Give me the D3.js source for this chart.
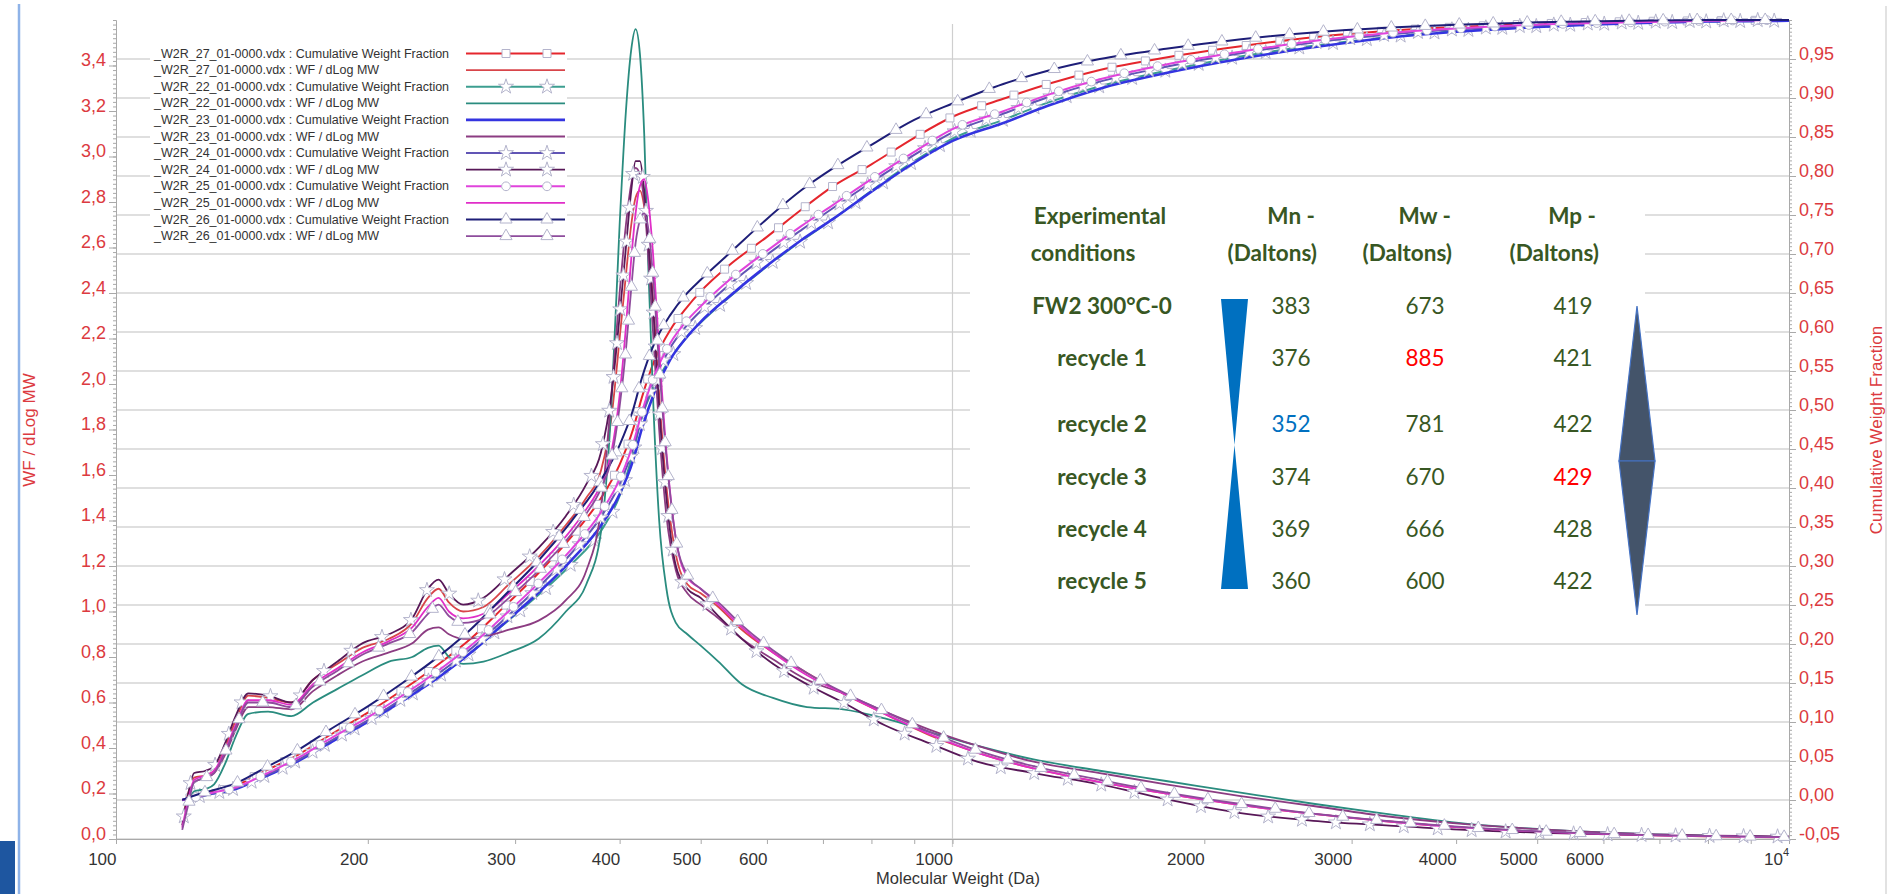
<!DOCTYPE html>
<html><head><meta charset="utf-8">
<script src="https://cdn.jsdelivr.net/npm/d3@7"></script>
<style>
html,body{margin:0;padding:0;background:#fff;}
svg{display:block;font-family:"Liberation Sans",Arial,sans-serif;}
</style></head><body>
<svg id="chart" width="1898" height="894"></svg>
<script>
// ---------------- DATA ----------------
// Molecular weight grid for WF / dLog MW curves (left axis)
const mwWF = [120,122,124,128,131,135,139,144,152,162,172,184,197,212,226,236,243,250,260,275,295,320,345,365,380,391,400,407,413,418,423,428,433,439,446,455,467,482,500,525,560,610,670,740,830,940,1070,1250,1500,1800,2200,2700,3300,4100,5200,6700,10000];
const wf27 = [0.08,0.2,0.27,0.28,0.3,0.4,0.52,0.63,0.62,0.6,0.7,0.77,0.84,0.88,0.95,1.06,1.1,1.04,1.0,1.02,1.12,1.24,1.38,1.5,1.62,1.85,2.2,2.48,2.7,2.82,2.85,2.78,2.62,2.35,1.95,1.55,1.25,1.12,1.08,1.02,0.92,0.82,0.73,0.64,0.55,0.455,0.38,0.31,0.25,0.2,0.15,0.11,0.078,0.05,0.03,0.017,0.007];
const wf22 = [0.1,0.16,0.21,0.22,0.24,0.33,0.45,0.55,0.56,0.54,0.6,0.66,0.72,0.78,0.8,0.84,0.85,0.8,0.77,0.78,0.82,0.88,1.0,1.12,1.35,1.9,2.7,3.2,3.47,3.56,3.45,3.1,2.5,1.9,1.4,1.1,0.95,0.9,0.85,0.78,0.68,0.62,0.58,0.57,0.53,0.47,0.41,0.35,0.3,0.255,0.205,0.155,0.11,0.068,0.04,0.022,0.008];
const wf23 = [0.08,0.18,0.25,0.27,0.29,0.37,0.48,0.58,0.58,0.57,0.65,0.72,0.78,0.82,0.86,0.92,0.93,0.9,0.88,0.89,0.92,0.96,1.05,1.18,1.45,1.95,2.4,2.7,2.88,2.95,2.92,2.8,2.55,2.2,1.8,1.42,1.18,1.08,1.03,0.97,0.88,0.79,0.7,0.64,0.56,0.48,0.41,0.34,0.29,0.24,0.19,0.145,0.1,0.065,0.04,0.022,0.01];
const wf24 = [0.06,0.2,0.29,0.3,0.32,0.42,0.54,0.64,0.63,0.6,0.7,0.78,0.86,0.9,0.97,1.1,1.14,1.08,1.03,1.06,1.16,1.28,1.42,1.56,1.7,1.95,2.3,2.6,2.85,2.98,2.98,2.85,2.62,2.32,1.9,1.5,1.2,1.1,1.06,0.98,0.88,0.77,0.68,0.6,0.5,0.42,0.34,0.29,0.24,0.175,0.115,0.08,0.06,0.04,0.026,0.017,0.01];
const wf25 = [0.05,0.17,0.26,0.28,0.3,0.39,0.5,0.61,0.61,0.59,0.68,0.75,0.82,0.87,0.93,1.02,1.06,1.0,0.97,0.99,1.08,1.2,1.33,1.45,1.56,1.7,1.95,2.25,2.55,2.75,2.87,2.9,2.8,2.55,2.15,1.7,1.32,1.15,1.1,1.03,0.93,0.82,0.72,0.64,0.55,0.46,0.38,0.31,0.25,0.2,0.15,0.11,0.078,0.05,0.03,0.017,0.008];
const wf26 = [0.04,0.15,0.25,0.27,0.29,0.38,0.49,0.6,0.6,0.58,0.67,0.74,0.81,0.86,0.91,0.99,1.03,0.98,0.95,0.97,1.06,1.18,1.31,1.43,1.54,1.67,1.9,2.15,2.42,2.62,2.72,2.75,2.68,2.45,2.08,1.68,1.32,1.16,1.1,1.04,0.94,0.83,0.73,0.645,0.56,0.47,0.39,0.32,0.26,0.205,0.155,0.112,0.08,0.052,0.031,0.018,0.009];

// Molecular weight grid for cumulative weight fraction curves (right axis)
const mwCWF = [120,122,126,130,138,150,165,180,200,220,245,265,290,320,350,380,400,415,425,440,460,480,500,540,600,660,720,800,900,1000,1150,1300,1500,1800,2200,2700,3300,4000,5000,6500,8000,10000];
const cwf27 = [0,0.002,0.006,0.01,0.017,0.036,0.058,0.083,0.112,0.141,0.177,0.206,0.246,0.291,0.337,0.387,0.43,0.475,0.515,0.563,0.603,0.63,0.652,0.685,0.722,0.757,0.787,0.815,0.849,0.876,0.899,0.918,0.936,0.952,0.966,0.978,0.986,0.991,0.995,0.998,0.999,1.0];
const cwf22 = [0,0.002,0.005,0.009,0.014,0.03,0.051,0.074,0.101,0.128,0.161,0.188,0.224,0.263,0.302,0.345,0.39,0.445,0.49,0.53,0.566,0.592,0.612,0.644,0.684,0.717,0.745,0.781,0.819,0.848,0.872,0.894,0.915,0.935,0.953,0.967,0.978,0.986,0.992,0.996,0.998,0.999];
const cwf23 = [0,0.002,0.005,0.008,0.013,0.029,0.05,0.073,0.1,0.127,0.16,0.188,0.225,0.266,0.307,0.352,0.392,0.435,0.475,0.522,0.565,0.592,0.613,0.645,0.685,0.718,0.745,0.78,0.817,0.845,0.868,0.89,0.912,0.932,0.95,0.965,0.977,0.985,0.991,0.996,0.998,0.999];
const cwf24 = [0,0.001,0.004,0.008,0.014,0.03,0.051,0.075,0.102,0.13,0.165,0.193,0.23,0.273,0.316,0.363,0.405,0.45,0.49,0.538,0.58,0.607,0.627,0.66,0.699,0.731,0.759,0.792,0.827,0.856,0.88,0.901,0.921,0.94,0.957,0.971,0.981,0.988,0.993,0.997,0.999,1.0];
const cwf25 = [0,0.002,0.005,0.009,0.015,0.032,0.054,0.078,0.106,0.134,0.169,0.197,0.235,0.278,0.321,0.369,0.411,0.456,0.496,0.544,0.586,0.613,0.633,0.666,0.704,0.736,0.763,0.796,0.831,0.86,0.883,0.904,0.924,0.943,0.959,0.973,0.983,0.989,0.994,0.997,0.999,1.0];
const cwf26 = [0,0.003,0.008,0.012,0.02,0.04,0.064,0.09,0.12,0.15,0.187,0.218,0.26,0.307,0.357,0.41,0.455,0.5,0.54,0.585,0.622,0.648,0.667,0.7,0.745,0.782,0.81,0.84,0.872,0.893,0.918,0.935,0.95,0.963,0.975,0.984,0.99,0.994,0.997,0.999,1.0,1.0];

// Axis ticks
const xLabelTicks = [100,200,300,400,500,600,1000,2000,3000,4000,5000,6000];
const xAllTicks = [100,200,300,400,500,600,700,800,900,1000,2000,3000,4000,5000,6000,7000,8000,9000,10000];
const leftTickValues = [0,0.2,0.4,0.6,0.8,1.0,1.2,1.4,1.6,1.8,2.0,2.2,2.4,2.6,2.8,3.0,3.2,3.4];
const rightTickValues = [-0.05,0,0.05,0.1,0.15,0.2,0.25,0.3,0.35,0.4,0.45,0.5,0.55,0.6,0.65,0.7,0.75,0.8,0.85,0.9,0.95];

// Table
const tableConditions = ["FW2 300°C-0","recycle 1","recycle 2","recycle 3","recycle 4","recycle 5"];
const tableMn = [383,376,352,374,369,360];
const tableMw = [673,885,781,670,666,600];
const tableMp = [419,421,422,429,428,422];

// Legend / series
const legendLabels = [
  "_W2R_27_01-0000.vdx : Cumulative Weight Fraction","_W2R_27_01-0000.vdx : WF / dLog MW",
  "_W2R_22_01-0000.vdx : Cumulative Weight Fraction","_W2R_22_01-0000.vdx : WF / dLog MW",
  "_W2R_23_01-0000.vdx : Cumulative Weight Fraction","_W2R_23_01-0000.vdx : WF / dLog MW",
  "_W2R_24_01-0000.vdx : Cumulative Weight Fraction","_W2R_24_01-0000.vdx : WF / dLog MW",
  "_W2R_25_01-0000.vdx : Cumulative Weight Fraction","_W2R_25_01-0000.vdx : WF / dLog MW",
  "_W2R_26_01-0000.vdx : Cumulative Weight Fraction","_W2R_26_01-0000.vdx : WF / dLog MW"];

// ---------------- CHART ----------------
const svg = d3.select("#chart");
const W = 1898, H = 894;
const X0 = 116, X1 = 1789, Y0 = 839, Y1 = 20;
const x = d3.scaleLog().domain([100, 10000]).range([X0, X1]);
const yL = d3.scaleLinear().domain([0, 3.6]).range([Y0, Y1]);
const yR = d3.scaleLinear().domain([-0.05, 1.0]).range([Y0, Y1]);
const red = "#dc3a40";

const series = [
  {lab:0, mw:mwCWF, v:cwf27, y:yR, color:"#e5262d", w:2, sym:d3.symbolSquare, size:64},
  {lab:1, mw:mwWF,  v:wf27,  y:yL, color:"#d8454a", w:1.8, sym:null},
  {lab:2, mw:mwCWF, v:cwf22, y:yR, color:"#3c9e90", w:2, sym:d3.symbolStar, size:70},
  {lab:3, mw:mwWF,  v:wf22,  y:yL, color:"#2a8c7f", w:1.8, sym:null},
  {lab:4, mw:mwCWF, v:cwf23, y:yR, color:"#3434e0", w:2.6, sym:null},
  {lab:5, mw:mwWF,  v:wf23,  y:yL, color:"#8c3c82", w:1.8, sym:null},
  {lab:6, mw:mwCWF, v:cwf24, y:yR, color:"#6155b5", w:2, sym:d3.symbolStar, size:70},
  {lab:7, mw:mwWF,  v:wf24,  y:yL, color:"#581858", w:1.8, sym:d3.symbolStar, size:70},
  {lab:8, mw:mwCWF, v:cwf25, y:yR, color:"#e044dc", w:2, sym:d3.symbolCircle, size:60},
  {lab:9, mw:mwWF,  v:wf25,  y:yL, color:"#e02ec8", w:1.8, sym:null},
  {lab:10, mw:mwCWF, v:cwf26, y:yR, color:"#1e1e78", w:2, sym:d3.symbolTriangle, size:64},
  {lab:11, mw:mwWF,  v:wf26,  y:yL, color:"#8e4c9c", w:1.8, sym:d3.symbolTriangle, size:64}
];

// page decorations
svg.append("rect").attr("x",0).attr("y",0).attr("width",W).attr("height",H).attr("fill","#fff");
svg.append("line").attr("x1",19).attr("x2",19).attr("y1",4).attr("y2",H).attr("stroke","#8fb3e8").attr("stroke-width",2.5);
svg.append("rect").attr("x",0).attr("y",841).attr("width",15).attr("height",53).attr("fill","#1e56a0");
svg.append("line").attr("x1",1886).attr("x2",1886).attr("y1",6).attr("y2",H).attr("stroke","#d8d8d8").attr("stroke-width",1.5);

// gridlines
const grid = svg.append("g");
grid.selectAll("line.h").data(rightTickValues).join("line")
  .attr("x1",X0).attr("x2",X1).attr("y1",d=>yR(d)).attr("y2",d=>yR(d))
  .attr("stroke","#d4d4d4").attr("stroke-width",1.6);
grid.append("line").attr("x1",x(1000)).attr("x2",x(1000)).attr("y1",Y1+4).attr("y2",Y0+8)
  .attr("stroke","#cfcfcf").attr("stroke-width",1.2);

// white boxes (legend + table)
svg.append("rect").attr("x",150).attr("y",44).attr("width",417).attr("height",204).attr("fill","#fff");
svg.append("rect").attr("x",970).attr("y",197).attr("width",675).attr("height",428).attr("fill","#fff");

// axes
const axisColor = "#a9a9a9";
function styleAxis(g){ g.select(".domain").attr("stroke",axisColor); g.selectAll(".tick line").attr("stroke",axisColor); }
// left
const gL = svg.append("g").attr("transform",`translate(${X0},0)`);
gL.call(d3.axisLeft(yL).tickValues(d3.range(0,3.601,0.02)).tickSize(3).tickSizeOuter(0).tickFormat(""));
gL.call(styleAxis);
const gLm = svg.append("g").attr("transform",`translate(${X0},0)`);
gLm.call(d3.axisLeft(yL).tickValues(leftTickValues).tickSize(7).tickSizeOuter(0).tickFormat(d=>d.toFixed(1).replace(".",",")));
gLm.call(styleAxis);
gLm.selectAll(".tick text").attr("x",-10).attr("dy","0").attr("fill",red).style("font-size","18px").style("font-family","'Liberation Sans',Arial,sans-serif");
// right
const gR = svg.append("g").attr("transform",`translate(${X1},0)`);
gR.call(d3.axisRight(yR).tickValues(d3.range(-0.05,1.0001,0.005)).tickSize(3).tickSizeOuter(0).tickFormat(""));
gR.call(styleAxis);
const gRm = svg.append("g").attr("transform",`translate(${X1},0)`);
gRm.call(d3.axisRight(yR).tickValues(rightTickValues).tickSize(7).tickSizeOuter(0).tickFormat(d=>d.toFixed(2).replace(".",",").replace("-0,00","0,00")));
gRm.call(styleAxis);
gRm.selectAll(".tick text").attr("x",10).attr("dy","0").attr("fill",red).style("font-size","18px").style("font-family","'Liberation Sans',Arial,sans-serif");
// bottom
const gB = svg.append("g").attr("transform",`translate(0,${Y0})`);
gB.call(d3.axisBottom(x).tickValues(xAllTicks).tickSize(5).tickSizeOuter(0).tickFormat(d=>xLabelTicks.includes(d)?String(d):""));
gB.call(styleAxis);
gB.selectAll(".tick text").attr("y",26).attr("dy","0").attr("text-anchor","end").attr("fill","#333")
  .style("font-size","17px").style("font-family","'Liberation Sans',Arial,sans-serif");
const t4 = svg.append("text").attr("x",x(10000)).attr("y",Y0+26).attr("text-anchor","end").attr("fill","#333").style("font-size","17px");
t4.append("tspan").text("10");
t4.append("tspan").attr("dy",-9).style("font-size","11px").text("4");

// axis titles
svg.append("text").attr("x",958).attr("y",884).attr("text-anchor","middle").attr("fill","#333").style("font-size","16.5px").text("Molecular Weight (Da)");
svg.append("text").attr("transform","translate(35,430) rotate(-90)").attr("text-anchor","middle").attr("fill",red).style("font-size","17px").text("WF / dLog MW");
svg.append("text").attr("transform","translate(1882,430) rotate(-90)").attr("text-anchor","middle").attr("fill",red).style("font-size","17px").text("Cumulative Weight Fraction");

// table
const green = "#385723";
const fs = "22.5px";
const tbl = svg.append("g").style("font-family","Lato,'Noto Sans',sans-serif").attr("fill",green);
const hdr = [[1100,215,"Experimental","middle"],[1083,252,"conditions","middle"],
  [1315,215,"Mn -","end"],[1317,252,"(Daltons)","end"],
  [1451,215,"Mw -","end"],[1452,252,"(Daltons)","end"],
  [1596,215,"Mp -","end"],[1599,252,"(Daltons)","end"]];
hdr.forEach(h=>tbl.append("text").attr("x",h[0]).attr("y",h[1]).attr("text-anchor",h[3]).attr("dominant-baseline","central")
  .style("font-weight","bold").style("font-size",fs).text(h[2]));
const rowY = [305,357,423,476,528,580];
tableConditions.forEach((c,i)=>{
  tbl.append("text").attr("x",1102).attr("y",rowY[i]).attr("text-anchor","middle").attr("dominant-baseline","central")
    .style("font-weight","bold").style("font-size",fs).text(c);
  tbl.append("text").attr("x",1291).attr("y",rowY[i]).attr("text-anchor","middle").attr("dominant-baseline","central")
    .style("font-size",fs).attr("fill", tableMn[i]===d3.min(tableMn)?"#0070c0":green).text(tableMn[i]);
  tbl.append("text").attr("x",1425).attr("y",rowY[i]).attr("text-anchor","middle").attr("dominant-baseline","central")
    .style("font-size",fs).attr("fill", tableMw[i]===d3.max(tableMw)?"#ff0000":green).text(tableMw[i]);
  tbl.append("text").attr("x",1573).attr("y",rowY[i]).attr("text-anchor","middle").attr("dominant-baseline","central")
    .style("font-size",fs).attr("fill", tableMp[i]===d3.max(tableMp)?"#ff0000":green).text(tableMp[i]);
});
// hourglass
svg.append("path").attr("d","M1221,299 L1248,299 L1234.5,445 Z M1234.5,445 L1248,589 L1221,589 Z").attr("fill","#0070c0");
// diamond
svg.append("path").attr("d","M1637,306 L1655,461 L1619,461 Z").attr("fill","#44546a").attr("stroke","#4472c4").attr("stroke-width",1.2);
svg.append("path").attr("d","M1619,461 L1655,461 L1637,615 Z").attr("fill","#44546a").attr("stroke","#4472c4").attr("stroke-width",1.2);

// curves
const curvesG = svg.append("g");
const markerStroke = "#b4b4cc";
series.forEach((s,si)=>{
  const pts = s.mw.map((m,i)=>[m,s.v[i]]);
  const line = d3.line().x(d=>x(d[0])).y(d=>s.y(d[1])).curve(d3.curveMonotoneX);
  const p = curvesG.append("path").datum(pts).attr("d",line).attr("fill","none")
    .attr("stroke",s.color).attr("stroke-width",s.w).attr("stroke-linejoin","round");
  if(s.sym){
    const node = p.node(); const L = node.getTotalLength();
    const sp = 34; let off = 8 + (si*5)%sp;
    const sym = d3.symbol().type(s.sym).size(s.size);
    for(let l=off; l<L; l+=sp){
      const pt = node.getPointAtLength(l);
      curvesG.append("path").attr("d",sym()).attr("transform",`translate(${pt.x},${pt.y})`)
        .attr("fill","#fff").attr("stroke",markerStroke).attr("stroke-width",1);
    }
  }
});

// legend
const lg = svg.append("g");
legendLabels.forEach((t,i)=>{
  const yy = 53.5 + i*16.6;
  const s = series[i];
  lg.append("text").attr("x",154).attr("y",yy).attr("dominant-baseline","central").attr("fill","#333")
    .style("font-size","12.5px").text(t);
  lg.append("line").attr("x1",466).attr("x2",565).attr("y1",yy).attr("y2",yy).attr("stroke",s.color).attr("stroke-width",s.w);
  if(s.sym){
    const sym = d3.symbol().type(s.sym).size(s.size);
    [506,547].forEach(px=>lg.append("path").attr("d",sym()).attr("transform",`translate(${px},${yy})`)
      .attr("fill","#fff").attr("stroke",markerStroke).attr("stroke-width",1));
  }
});
</script>
</body></html>
